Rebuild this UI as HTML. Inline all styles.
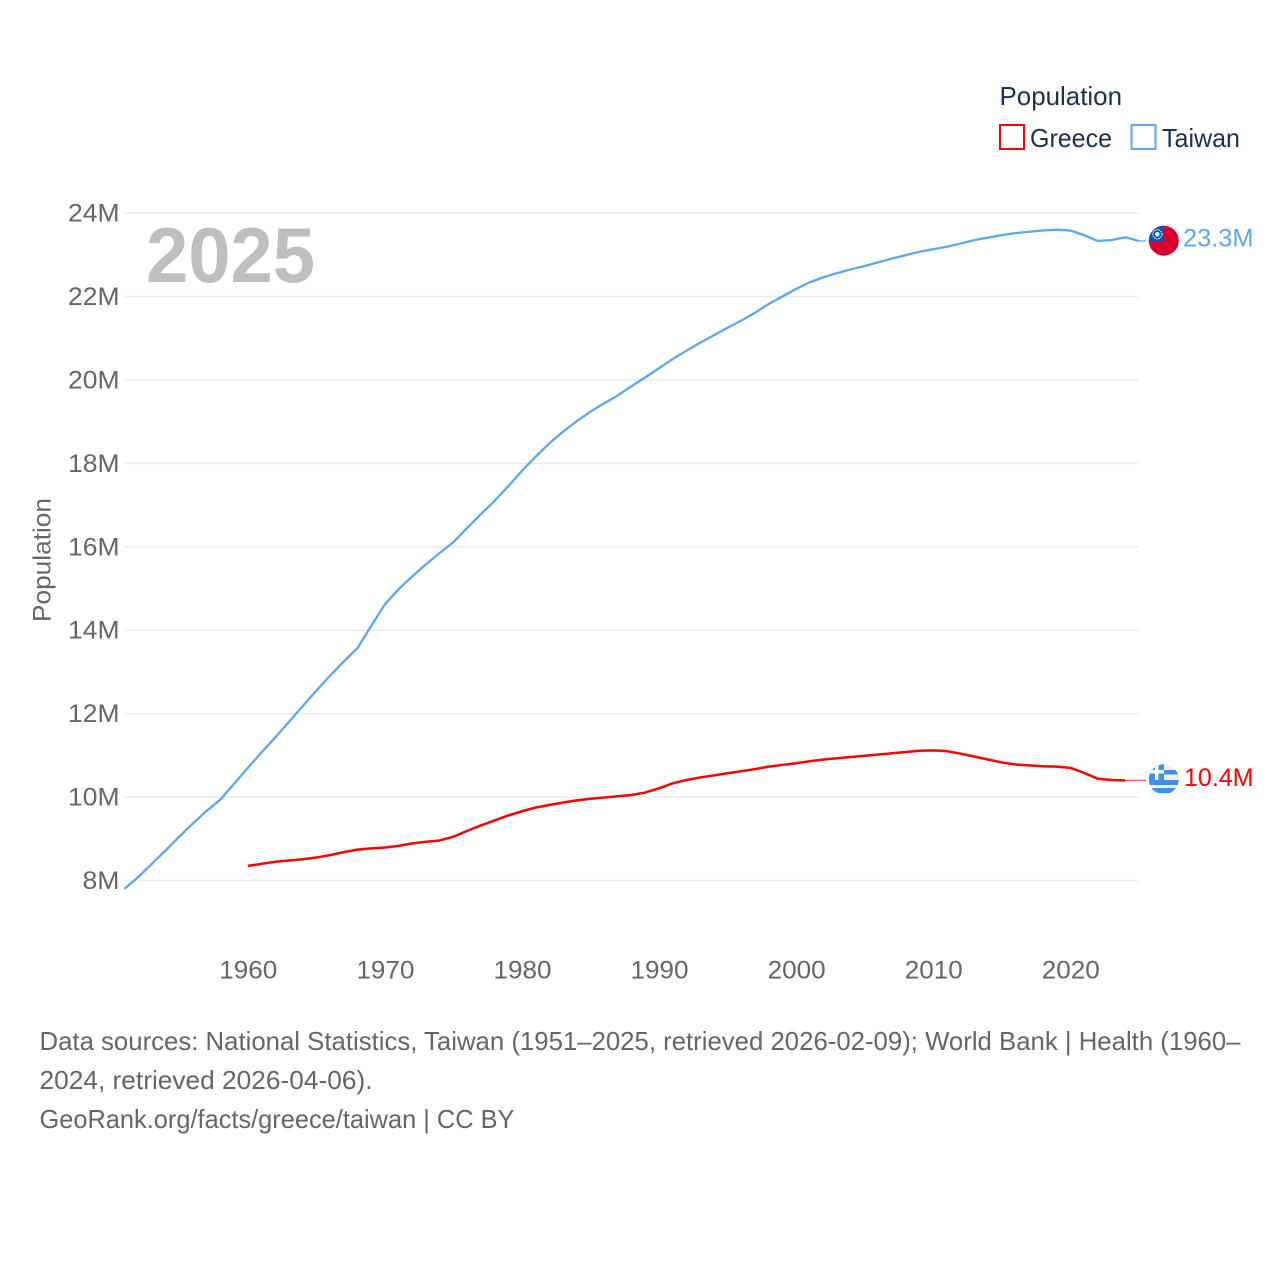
<!DOCTYPE html>
<html lang="en">
<head>
<meta charset="utf-8">
<title>Population: Greece and Taiwan</title>
<style>
html,body{margin:0;padding:0;background:#fff;}
svg{display:block;font-family:"Liberation Sans",sans-serif;}
</style>
</head>
<body>
<svg id="chart" xmlns="http://www.w3.org/2000/svg" width="1280" height="1280" viewBox="0 0 1280 1280">
  <rect x="0" y="0" width="1280" height="1280" fill="#ffffff"/>
  <defs>
    <clipPath id="taiwan-clip"><circle id="taiwan-clip-circle" cx="1163.8" cy="240.7" r="15"/></clipPath>
    <clipPath id="greece-clip"><circle id="greece-clip-circle" cx="1163.8" cy="779.3" r="15"/></clipPath>
  </defs>
  <g id="grid"></g>
  <g id="yticks"></g>
  <g id="xticks"></g>
  <text transform="translate(50.500,560) rotate(-90)" text-anchor="middle" font-size="25" fill="#666666" textLength="124" lengthAdjust="spacingAndGlyphs">Population</text>
  <text x="146" y="282" font-size="78" font-weight="700" fill="#bfbfbf" textLength="169" lengthAdjust="spacingAndGlyphs">2025</text>
  <g id="series"></g>
  <g id="taiwan-flag" clip-path="url(#taiwan-clip)">
    <rect x="1148" y="225" width="32" height="32" fill="#d9002f"/>
    <rect x="1148" y="225" width="16" height="16.500" fill="#0b52a8"/>
    <circle cx="1157.300" cy="234.300" r="4.600" fill="none" stroke="#ffffff" stroke-width="1.200" stroke-dasharray="1.300 1"/>
    <circle cx="1157.300" cy="234.300" r="2.400" fill="#dfe9f6"/>
  </g>
  <g id="greece-flag" clip-path="url(#greece-clip)">
    <rect x="1148" y="764" width="32" height="31" fill="#f0f0f0"/>
    <rect x="1148" y="770" width="32" height="4.500" fill="#3f8fe8"/>
    <rect x="1148" y="780" width="32" height="5" fill="#3f8fe8"/>
    <rect x="1148" y="788" width="32" height="5" fill="#3f8fe8"/>
    <rect x="1148" y="764" width="16" height="16" fill="#3f8fe8"/>
    <rect x="1148" y="770" width="16" height="3.500" fill="#ffffff"/>
    <rect x="1155" y="764" width="3.500" height="16" fill="#ffffff"/>
  </g>
  <g id="value-labels"></g>
  <g>
    <text x="999.500" y="105" font-size="26" fill="#1b3150" textLength="122.500" lengthAdjust="spacingAndGlyphs">Population</text>
    <g>
      <rect x="1000" y="125" width="24" height="24" fill="none" stroke="#ff0000" stroke-width="2"/>
      <text x="1030" y="147" font-size="26" fill="#1b3150" textLength="82" lengthAdjust="spacingAndGlyphs">Greece</text>
    </g>
    <g>
      <rect x="1131.500" y="125" width="24" height="24" fill="none" stroke="#5ba8f0" stroke-width="2"/>
      <text x="1162" y="147" font-size="26" fill="#1b3150" textLength="78" lengthAdjust="spacingAndGlyphs">Taiwan</text>
    </g>
  </g>
  <g font-size="26" fill="#666666">
    <text x="39.500" y="1050" textLength="1201" lengthAdjust="spacingAndGlyphs">Data sources: National Statistics, Taiwan (1951–2025, retrieved 2026-02-09); World Bank | Health (1960–</text>
    <text x="39.500" y="1089" textLength="333" lengthAdjust="spacingAndGlyphs">2024, retrieved 2026-04-06).</text>
    <a><text x="39.500" y="1128" textLength="475" lengthAdjust="spacingAndGlyphs">GeoRank.org/facts/greece/taiwan | CC BY</text></a>
  </g>
</svg>
<script>
const taiwanStartYear = 1951;
const greeceStartYear = 1960;
const yTickValues = [8, 10, 12, 14, 16, 18, 20, 22, 24];
const xTickValues = [1960, 1970, 1980, 1990, 2000, 2010, 2020];
const taiwanValues = [
  7.80, 8.08, 8.40, 8.72, 9.05, 9.37, 9.67, 9.94, 10.32, 10.70,
  11.07, 11.43, 11.80, 12.18, 12.55, 12.91, 13.25, 13.57, 14.10, 14.62,
  14.98, 15.29, 15.58, 15.85, 16.11, 16.45, 16.78, 17.10, 17.45, 17.82,
  18.16, 18.48, 18.76, 19.01, 19.24, 19.44, 19.63, 19.85, 20.06, 20.28,
  20.50, 20.70, 20.89, 21.07, 21.25, 21.42, 21.61, 21.82, 22.00, 22.18,
  22.34, 22.46, 22.56, 22.65, 22.73, 22.82, 22.91, 22.99, 23.07, 23.13,
  23.19, 23.27, 23.35, 23.41, 23.47, 23.52, 23.55, 23.58, 23.60, 23.58,
  23.47, 23.33, 23.35, 23.42, 23.33
];
const greeceValues = [
  8.35, 8.40, 8.45, 8.48, 8.51, 8.55, 8.61, 8.68, 8.74, 8.77,
  8.79, 8.83, 8.89, 8.93, 8.96, 9.05, 9.19, 9.32, 9.44, 9.56,
  9.66, 9.75, 9.81, 9.87, 9.92, 9.96, 9.99, 10.02, 10.05, 10.11,
  10.21, 10.33, 10.41, 10.47, 10.52, 10.57, 10.62, 10.67, 10.73, 10.77,
  10.81, 10.86, 10.90, 10.93, 10.96, 10.99, 11.02, 11.05, 11.08, 11.11,
  11.12, 11.10, 11.04, 10.97, 10.90, 10.83, 10.78, 10.76, 10.74, 10.73,
  10.70, 10.58, 10.44, 10.41, 10.40
];

const NS = 'http://www.w3.org/2000/svg';
function xScale(year) { return 247.8 + (year - 1960) * (1070.3 - 247.8) / 60; }
function yScale(value) { return 880.5 - (value - 8) * (880.5 - 213) / 16; }
function make(parent, tag, attrs, text) {
  const el = document.createElementNS(NS, tag);
  for (const k in attrs) el.setAttribute(k, attrs[k]);
  if (text !== undefined) el.textContent = text;
  parent.appendChild(el);
  return el;
}
function pathFor(values, startYear) {
  return values.map(function (v, i) {
    return (i ? 'L' : 'M') + xScale(startYear + i).toFixed(2) + ' ' + yScale(v).toFixed(2);
  }).join(' ');
}

const grid = document.getElementById('grid');
const yticks = document.getElementById('yticks');
const xticks = document.getElementById('xticks');
const seriesGroup = document.getElementById('series');
const labels = document.getElementById('value-labels');

yTickValues.forEach(function (v) {
  const line = make(grid, 'line', { x1: xScale(taiwanStartYear), x2: xScale(2025), y1: yScale(v), y2: yScale(v), stroke: '#ececec', 'stroke-width': 1.5 });
  
  
  const label = make(yticks, 'text', { x: 119.5, y: yScale(v) + 8.5, 'text-anchor': 'end', 'font-size': 25, fill: '#666666', textLength: v < 10 ? 37 : 51.5, lengthAdjust: 'spacingAndGlyphs' }, v + 'M');
  
  
});

xTickValues.forEach(function (year) {
  const label = make(xticks, 'text', { x: xScale(year) + 0.5, y: 978.5, 'text-anchor': 'middle', 'font-size': 25, fill: '#666666', textLength: 58, lengthAdjust: 'spacingAndGlyphs' }, String(year));
  
  
});

const greeceLine = make(seriesGroup, 'path', { d: pathFor(greeceValues, greeceStartYear), fill: 'none', stroke: '#ff0000', 'stroke-width': 2.5, 'stroke-linejoin': 'round' });


const taiwanLine = make(seriesGroup, 'path', { d: pathFor(taiwanValues, taiwanStartYear), fill: 'none', stroke: '#5ba8f0', 'stroke-width': 2.3, 'stroke-linejoin': 'round' });



const taiwanLast = taiwanValues[taiwanValues.length - 1];
const greeceLast = greeceValues[greeceValues.length - 1];
const taiwanLastYear = taiwanStartYear + taiwanValues.length - 1;
const greeceLastYear = greeceStartYear + greeceValues.length - 1;

const taiwanLeader = make(seriesGroup, 'line', { x1: xScale(taiwanLastYear), x2: 1146, y1: yScale(taiwanLast), y2: yScale(taiwanLast), stroke: '#5ba8f0', 'stroke-width': 1.2 });


const greeceLeader = make(seriesGroup, 'line', { x1: xScale(greeceLastYear), x2: 1146, y1: yScale(greeceLast), y2: yScale(greeceLast), stroke: '#ff5a5a', 'stroke-width': 1.2 });



const taiwanValueLabel = make(labels, 'text', { x: 1183, y: yScale(taiwanLast) + 5.5, 'font-size': 25, fill: '#5ba8f0', textLength: 70.5, lengthAdjust: 'spacingAndGlyphs' }, taiwanLast.toFixed(1) + 'M');


const greeceValueLabel = make(labels, 'text', { x: 1184, y: yScale(greeceLast) + 5.5, 'font-size': 25, fill: '#ff0000', textLength: 69.5, lengthAdjust: 'spacingAndGlyphs' }, greeceLast.toFixed(1) + 'M');


</script>
</body>
</html>
